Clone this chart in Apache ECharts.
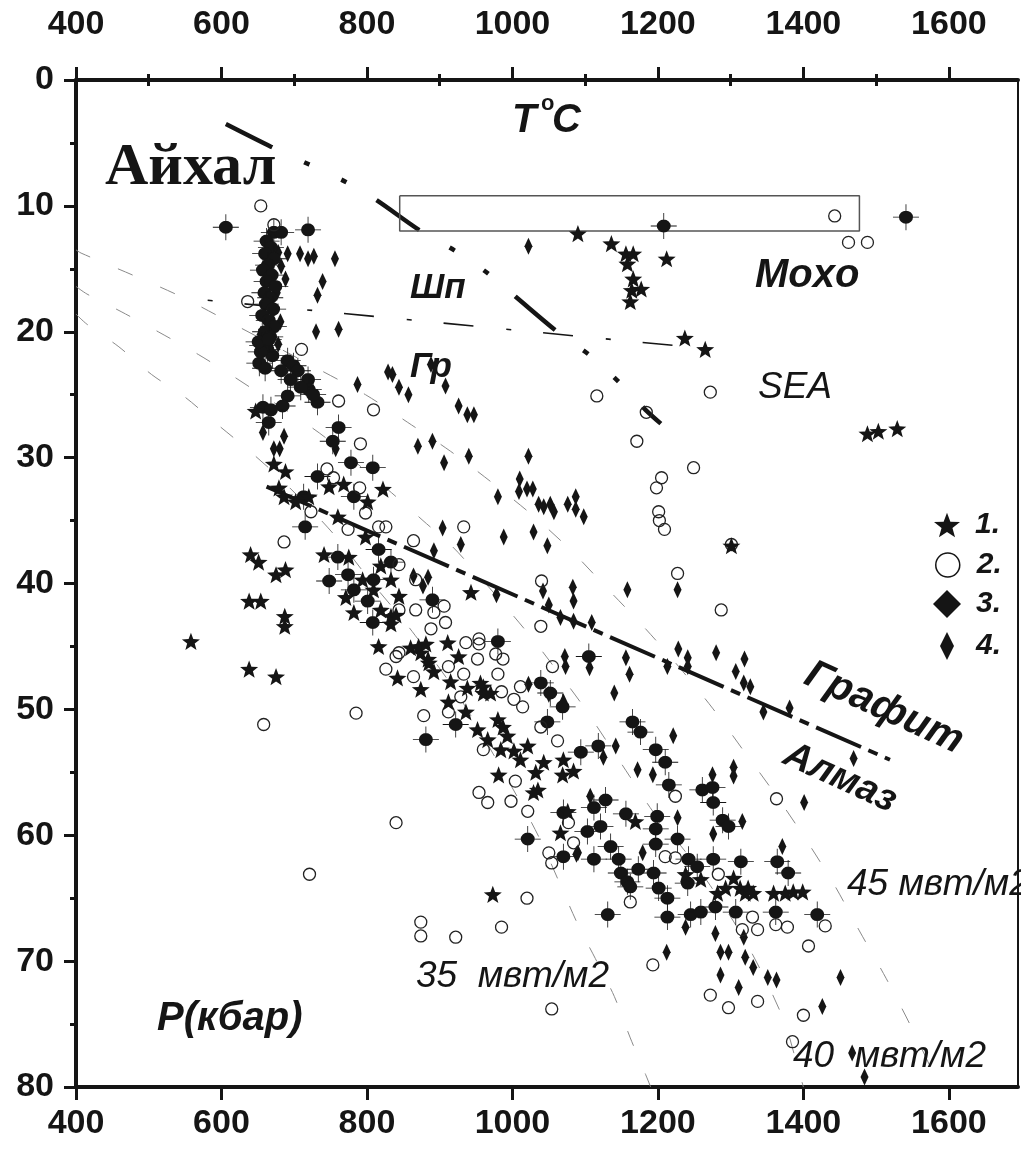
<!DOCTYPE html>
<html><head><meta charset="utf-8">
<script src="https://cdn.jsdelivr.net/npm/echarts@6/dist/echarts.min.js"></script>
<style>html,body{margin:0;padding:0;background:#fff;}#c{width:1021px;height:1151px;}</style>
</head><body><div id="c"></div>
<script>
// ---------- tick labels ----------
const xMajor = [400, 600, 800, 1000, 1200, 1400, 1600];
const xMinor = [500, 700, 900, 1100, 1300, 1500];

// ---------- series 1: stars ----------
const stars = [
[1090,12.2],[1136,13.0],[1156,13.8],[1166,13.8],[1158,14.6],[1212,14.2],[1166,15.8],[1177,16.6],[1164,16.7],[1162,17.6],[1237,20.5],[1265,21.4],[1488,28.1],[1503,27.9],[1529,27.7],[1301,37.0],
[647,26.3],[672,30.5],[688,31.1],[679,32.4],[686,33.1],[702,33.5],[720,33.1],[748,32.3],[768,32.1],[801,33.5],[822,32.5],[760,34.7],[798,36.3],[640,37.7],[651,38.3],[675,39.3],[688,38.9],[741,37.7],[775,37.9],[819,38.6],[638,41.4],[654,41.4],[687,42.6],[687,43.4],[558,44.6],[638,46.8],[675,47.4],
[771,41.1],[782,42.3],[819,42.1],[844,41.0],[833,39.7],[794,39.7],[809,40.5],[833,42.6],[816,45.0],[860,45.1],[874,45.5],[885,46.3],[892,47.0],[911,44.7],[926,45.8],[943,40.7],[840,42.5],[833,43.2],[871,45.0],[881,44.8],[884,46.0],[915,47.8],[960,48.2],[960,48.7],[970,48.7],[842,47.5],[874,48.4],[912,49.4],[936,50.2],[952,51.6],[956,47.9],[938,48.3],[980,50.8],[987,51.4],[993,52.1],[966,52.4],[984,53.2],[1002,53.3],[1021,52.9],[1011,54.0],[981,55.2],[1032,55.0],[1043,54.2],[1070,54.0],[1069,55.2],[1084,54.9],[1035,56.4],[1029,56.6],[1076,58.1],[1066,59.8],[1169,58.9],[973,64.7],
[1238,63.1],[1259,63.5],[1282,64.6],[1293,64.2],[1304,63.4],[1313,64.2],[1320,64.6],[1324,64.2],[1331,64.6],[1359,64.6],[1375,64.6],[1386,64.5],[1399,64.5]
];

// ---------- series 2: open circles ----------
const circles = [
[654,10.0],[672,11.5],[636,17.6],[710,21.4],[1443,10.8],[1462,12.9],[1488,12.9],
[1116,25.1],[1272,24.8],[1184,26.4],[1171,28.7],[1249,30.8],[1205,31.6],[1198,32.4],[1201,34.3],[1202,35.0],[1209,35.7],[1301,36.9],[1227,39.2],[1287,42.1],
[761,25.5],[809,26.2],[791,28.9],[745,30.9],[754,31.6],[790,32.4],[798,34.4],[723,34.3],[774,35.7],[816,35.5],[826,35.5],[864,36.6],[933,35.5],[686,36.7],[1040,39.8],
[844,38.5],[867,39.7],[906,41.8],[892,42.3],[867,42.1],[908,43.1],[888,43.6],[844,42.1],[844,45.5],[826,46.8],[936,44.7],[954,44.4],[954,44.8],[952,46.0],[977,45.6],[987,46.0],[1039,43.4],[933,47.2],[980,47.2],[840,45.8],[864,47.4],[912,46.6],
[985,48.6],[1011,48.2],[1002,49.2],[1014,49.8],[1039,51.4],[1062,52.5],[912,50.2],[929,49.0],[878,50.5],[960,53.2],[1004,55.7],[954,56.6],[966,57.4],[998,57.3],[1021,58.1],[840,59.0],[1055,46.6],[1224,56.9],[1084,60.6],[1050,61.4],[1077,59.0],
[1162,65.3],[1283,63.1],[1330,66.5],[1316,67.5],[1337,67.5],[1362,67.1],[1378,67.3],[1430,67.2],[1407,68.8],[1193,70.3],[1272,72.7],[1297,73.7],[1337,73.2],[1400,74.3],[1363,57.1],[1385,76.4],[1210,61.7],[1224,61.8],
[874,66.9],[874,68.0],[922,68.1],[985,67.3],[1020,65.0],[1054,73.8],[1054,62.2],
[658,51.2],[785,50.3],[721,63.1]
];

// ---------- series 3: filled diamonds with error crosses ----------
const diamonds3 = [
[606,11.7],[672,12.1],[682,12.1],[719,11.9],[1208,11.6],[1541,10.9],
[662,12.8],[668,13.3],[660,13.8],[672,14.2],[664,14.7],[657,15.1],[669,15.5],[662,16.0],[674,16.4],[659,16.9],[667,17.3],[661,17.8],[671,18.2],[656,18.7],[665,19.1],[672,19.6],[660,20.0],[667,20.4],[656,21.1],[663,21.4],[670,21.9],[652,22.5],[660,22.9],
[654,21.6],[651,20.8],[665,20.6],[691,22.3],[699,22.7],[705,23.1],[719,23.8],[720,24.6],[709,24.4],[691,25.1],[732,25.6],[684,25.9],[657,26.0],[665,27.2],[668,26.2],[695,23.8],[682,23.1],[726,25.0],
[761,27.6],[753,28.7],[778,30.4],[808,30.8],[732,31.5],[782,33.1],[713,33.1],[715,35.5],[816,37.3],[760,37.9],[748,39.8],[774,39.3],[833,38.3],[809,39.7],[782,40.5],[808,43.1],[980,44.6],[890,41.3],[801,41.4],
[881,52.4],[922,51.2],[1039,47.9],[1052,48.7],[1048,51.0],[1069,49.8],[1105,45.8],[1118,52.9],[1094,53.4],[1165,51.0],[1176,51.8],[1197,53.2],[1210,54.2],[1215,56.0],[1070,58.2],[1112,57.8],[1103,59.7],[1121,59.3],[1156,58.3],[1128,57.2],[1199,58.5],[1197,59.5],[1197,60.7],[1227,60.3],[1261,56.4],[1276,57.4],[1021,60.3],
[1135,60.9],[1070,61.7],[1112,61.9],[1146,61.9],[1149,63.0],[1158,63.7],[1162,64.1],[1173,62.7],[1194,63.0],[1242,61.9],[1254,62.5],[1276,61.9],[1314,62.1],[1275,56.2],[1289,58.8],[1297,59.3],[1364,62.1],[1379,63.0],[1201,64.2],[1213,65.0],[1245,66.3],[1259,66.1],[1279,65.7],[1213,66.5],[1131,66.3],[1362,66.1],[1419,66.3],[1307,66.1],[1241,63.8]
];

// ---------- series 4: thin diamonds ----------
const diamonds4 = [
[1022,13.2],[708,13.8],[719,14.2],[727,14.0],[756,14.2],[688,15.8],[739,16.0],[732,17.1],[730,20.0],[761,19.8],[691,13.8],
[678,13.7],[682,14.8],[676,16.9],[681,19.2],[654,20.2],[678,21.0],
[829,23.2],[835,23.4],[844,24.4],[857,25.0],[908,24.3],[888,22.6],[926,25.9],[938,26.6],[947,26.6],[787,24.2],[870,29.1],[890,28.7],[906,30.4],[940,29.9],[757,29.3],[686,28.3],[672,29.3],[680,29.3],[657,28.0],
[1022,29.9],[1010,31.7],[1009,32.7],[1020,32.5],[1028,32.5],[980,33.1],[1036,33.7],[1043,33.9],[1052,33.7],[1057,34.3],[1076,33.7],[1087,33.1],[1087,34.1],[1098,34.7],[988,36.3],[1029,35.9],[904,35.6],[929,36.9],[892,37.4],[1048,37.0],[1083,40.3],[978,40.9],[1042,40.6],
[1084,41.4],[1158,40.5],[1227,40.5],[1084,43.0],[1109,43.1],[1072,45.8],[1106,46.7],[1073,46.6],[1156,45.9],[1161,47.2],[1228,45.2],[1241,45.9],[1241,46.6],[1280,45.5],[1319,46.0],[1307,47.0],[1318,47.9],[1327,48.2],[1213,46.6],[1140,48.7],
[864,39.4],[884,39.5],[877,40.2],[1050,41.7],[1066,42.7],[1022,48.0],[1050,48.8],[1070,49.4],[1221,52.1],[1142,52.9],[1125,53.8],[1172,54.8],[1193,55.2],[1227,58.6],[1276,59.9],[1107,56.9],[1179,61.4],[1090,61.4],
[1345,50.2],[1381,49.9],[1469,53.9],[1401,57.4],[1304,54.6],[1304,55.3],[1275,55.2],[1316,58.9],
[1279,67.8],[1318,68.1],[1238,67.3],[1286,69.3],[1297,69.3],[1320,69.7],[1331,70.5],[1351,71.3],[1363,71.5],[1286,71.1],[1311,72.1],[1451,71.3],[1426,73.6],[1212,69.3],[1467,77.3],[1484,79.2],[1371,60.9],[1088,61.5]
];

// ---------- reference curves ----------
const geotherm45 = [[400,13.5],[407,13.75],[478,15.5],[544,17.2],[607,19.1],[731,22.9],[798,25.0],[856,27.2],[915,29.5],[970,31.9],[1028,34.6],[1081,37.4],[1132,40.5],[1183,43.6],[1230,46.7],[1275,49.9],[1318,53.3],[1362,56.8],[1403,60.3],[1443,64.0],[1477,67.6],[1514,71.4],[1548,75.2],[1577,78.7],[1588,80]];
const geotherm40 = [[400,16.4],[415,17.0],[462,18.4],[513,20.0],[568,21.8],[607,23.2],[655,25.0],[701,26.7],[745,28.5],[834,32.8],[877,35.0],[918,37.1],[954,39.4],[993,42.0],[1029,44.5],[1066,47.3],[1098,49.8],[1161,55.3],[1193,58.1],[1235,61.1],[1272,64.0],[1316,68.0],[1348,71.5],[1375,75.0],[1393,78.6],[1400,80]];
const geotherm35 = [[400,18.6],[415,19.4],[459,21.2],[504,23.4],[550,25.2],[591,27.2],[635,29.3],[676,31.4],[716,33.7],[756,36.2],[805,39.8],[862,43.8],[929,49.2],[1015,57.8],[1041,60.7],[1090,67.1],[1114,69.8],[1140,72.8],[1162,76.1],[1183,79.0],[1190,80]];
const graphiteDiamond = [[662,32.3],[1519,54.0]];
const seaLine = [[581,17.5],[1224,21.1]];
const spinelGarnet = [[606,3.5],[668,5.3],[720,6.7],[771,8.1],[812,9.5],[874,12.0],[922,13.6],[967,15.4],[1004,17.2],[1066,20.2],[1107,21.9],[1150,24.2],[1183,26.2],[1204,27.3]];
const mohoBox = [[845,9.2],[1477,9.2],[1477,12.0],[845,12.0],[845,9.2]];

// ---------- styling ----------
const SANS = "'Liberation Sans', Arial, sans-serif";
const NARROW = "'Liberation Sans Narrow', 'Arial Narrow', 'Liberation Sans', sans-serif";
const INK = '#151515';
const STAR = 'path://M0,-10 L2.47,-3.4 L9.51,-3.09 L3.99,1.3 L5.88,8.09 L0,4.2 L-5.88,8.09 L-3.99,1.3 L-9.51,-3.09 L-2.47,-3.4 Z';
const CROSS = 'path://M-7,0 A7,6.5 0 1,1 7,0 A7,6.5 0 1,1 -7,0 Z M-13,-0.4 L13,-0.4 L13,0.4 L-13,0.4 Z M-0.4,-13 L0.4,-13 L0.4,13 L-0.4,13 Z';

const axisLabelFont = {fontFamily: NARROW, fontWeight: 'bold', fontSize: 34, color: INK,
  formatter: function (v) { return String(v); }};

function xAxisMain(pos, margin) {
  return {type:'value', position:pos, min:400, max:1695,
    axisLine:{show:true, onZero:false, lineStyle:{color:INK, width:4}},
    axisTick:{show:true, customValues:xMajor, length:13, lineStyle:{color:INK, width:3}},
    axisLabel:Object.assign({show:true, customValues:xMajor, margin:margin}, axisLabelFont),
    splitLine:{show:false}};
}
function xAxisMinor(pos) {
  return {type:'value', position:pos, min:400, max:1695,
    axisLine:{show:false},
    axisTick:{show:true, customValues:xMinor, length:6, lineStyle:{color:INK, width:3}},
    axisLabel:{show:false}, splitLine:{show:false}};
}

function lineSeries(data, style, extra) {
  return Object.assign({type:'line', data:data, symbol:'none', silent:true, xAxisIndex:0, yAxisIndex:0,
    lineStyle:style, z:2, animation:false}, extra || {});
}

function txt(text, x, y, font, opts) {
  opts = opts || {};
  return {type:'text', x:x, y:y, rotation:opts.rotation || 0, z:50, silent:true,
    style:{text:text, font:font, fill:INK, align:opts.align || 'left', verticalAlign:'middle',
      textAlign:opts.align || 'left', textVerticalAlign:'middle'}};
}

const legendText = {fontFamily: SANS, fontWeight:'bold', fontStyle:'italic', fontSize:30, color:INK};

const option = {
  animation:false,
  backgroundColor:'#fff',
  grid:{left:76, right:3, top:80, bottom:64, containLabel:false},
  xAxis:[xAxisMain('bottom', 20), xAxisMain('top', 38), xAxisMinor('bottom'), xAxisMinor('top')],
  yAxis:[
    {type:'value', position:'left', inverse:true, min:0, max:80, interval:10,
      axisLine:{show:true, onZero:false, lineStyle:{color:INK, width:4}},
      axisTick:{show:true, length:12, lineStyle:{color:INK, width:3}},
      minorTick:{show:true, splitNumber:2, length:6, lineStyle:{color:INK, width:3}},
      axisLabel:Object.assign({margin:22}, axisLabelFont),
      splitLine:{show:false}},
    {type:'value', position:'right', inverse:true, min:0, max:80,
      axisLine:{show:true, onZero:false, lineStyle:{color:INK, width:2}},
      axisTick:{show:false}, axisLabel:{show:false}, splitLine:{show:false}}
  ],
  legend:[
    {data:[{name:'1.', icon:STAR}], left:929, top:505, itemWidth:26, itemHeight:26, selectedMode:false,
      textStyle:Object.assign({padding:[0,0,0,10]}, legendText)},
    {data:[{name:'2.', icon:'circle'}], left:930, top:545, itemWidth:24, itemHeight:24, selectedMode:false,
      itemStyle:{color:'rgba(255,255,255,0)', borderColor:INK, borderWidth:1.5},
      textStyle:Object.assign({padding:[0,0,0,12]}, legendText)},
    {data:[{name:'3.', icon:'diamond'}], left:928, top:584, itemWidth:28, itemHeight:28, selectedMode:false,
      textStyle:Object.assign({padding:[0,0,0,10]}, legendText)},
    {data:[{name:'4.', icon:'diamond'}], left:935, top:626, itemWidth:14, itemHeight:28, selectedMode:false,
      textStyle:Object.assign({padding:[0,0,0,17]}, legendText)}
  ],
  series:[
    lineSeries(geotherm45, {color:'#8a8a8a', width:1, type:[16,30]}, {smooth:0.3, z:1}),
    lineSeries(geotherm40, {color:'#8a8a8a', width:1, type:[16,30]}, {smooth:0.3, z:1}),
    lineSeries(geotherm35, {color:'#8a8a8a', width:1, type:[16,30]}, {smooth:0.3, z:1}),
    lineSeries(spinelGarnet, {color:INK, width:4.5, type:[52,35,6,35,6,35]}, {smooth:0.3}),
    lineSeries(seaLine, {color:INK, width:1.6, type:[5,32,30,33]}),
    lineSeries(graphiteDiamond, {color:INK, width:4, type:[49,8,10,8]}),
    lineSeries(mohoBox, {color:'#555', width:1.5, type:'solid'}),
    {name:'4.', type:'scatter', data:diamonds4, symbol:'diamond', symbolSize:[8,17], z:3,
      itemStyle:{color:INK, opacity:1}},
    {name:'3.', type:'scatter', data:diamonds3, symbol:CROSS, symbolSize:26, z:4,
      itemStyle:{color:INK, opacity:1}},
    {name:'2.', type:'scatter', data:circles, symbol:'circle', symbolSize:12, z:5,
      itemStyle:{color:'rgba(255,255,255,0)', borderColor:'#222', borderWidth:1.3, opacity:1}},
    {name:'1.', type:'scatter', data:stars, symbol:STAR, symbolSize:18, symbolKeepAspect:true, z:6,
      itemStyle:{color:INK, opacity:1}}
  ],
  graphic:[
    txt('Айхал', 105, 168, "bold 60px 'Liberation Serif', serif"),
    txt('T', 512, 121, "italic bold 40px " + SANS),
    txt('o', 541, 104, "bold 22px " + SANS),
    txt('C', 552, 121, "italic bold 40px " + SANS),
    txt('Шп', 410, 288, "italic bold 35px " + SANS),
    txt('Гр', 410, 367, "italic bold 35px " + SANS),
    txt('Moxo', 755, 276, "italic bold 40px " + SANS),
    txt('SEA', 758, 388, "italic 37px " + SANS),
    txt('45 мвт/м2', 847, 885, "italic 37px " + SANS),
    txt('35  мвт/м2', 416, 977, "italic 37px " + SANS),
    txt('40  мвт/м2', 793, 1057, "italic 37px " + SANS),
    txt('P(кбар)', 157, 1019, "italic bold 40px " + SANS),
    txt('Графит', 884, 708, "italic bold 41px " + SANS, {align:'center', rotation:-0.43}),
    txt('Алмаз', 840, 778, "italic bold 38px " + SANS, {align:'center', rotation:-0.43})
  ]
};

const chart = echarts.init(document.getElementById('c'), null, {renderer:'canvas'});
chart.setOption(option);
</script></body></html>
